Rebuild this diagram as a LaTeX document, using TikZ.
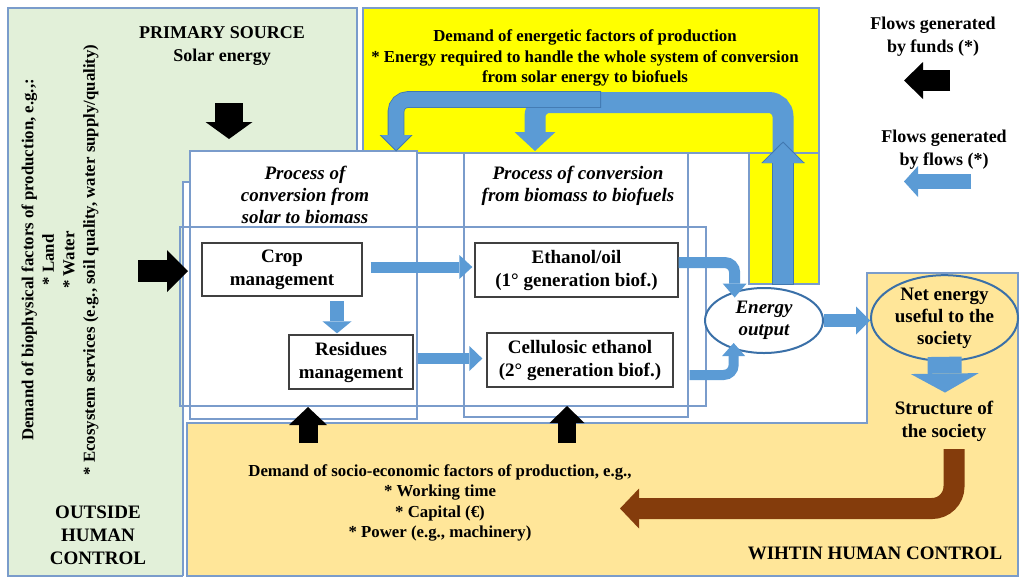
\documentclass[tikz,border=0pt]{standalone}
\usepackage{fontspec}
\setmainfont{Liberation Serif}
\usetikzlibrary{arrows.meta,calc,shapes.geometric}
\definecolor{gfill}{HTML}{E2F0D9}
\definecolor{bord}{HTML}{7A9CCB}
\definecolor{yel}{HTML}{FFFF00}
\definecolor{org}{HTML}{FFE699}
\definecolor{barr}{HTML}{5B9BD5}
\definecolor{barrd}{HTML}{4178B0}
\definecolor{ellb}{HTML}{3A70A8}
\definecolor{brn}{HTML}{843C0C}
\definecolor{boxb}{HTML}{404040}
\begin{document}
\begin{tikzpicture}[x=1pt,y=-1pt,
  lbl/.style={inner sep=0pt, align=center, font=\bfseries\fontsize{19}{23}\selectfont},
  lblit/.style={inner sep=0pt, align=center, font=\bfseries\itshape\fontsize{19}{22}\selectfont},
  lblsm/.style={inner sep=0pt, align=center, font=\bfseries\fontsize{16.8}{20.5}\selectfont},
  lbllg/.style={inner sep=0pt, align=center, font=\bfseries\fontsize{18}{23}\selectfont},
  tbox/.style={draw=boxb, line width=1.3pt, fill=white, inner sep=0pt, align=center, font=\bfseries\fontsize{19}{23}\selectfont},
  region/.style={draw=bord, line width=1.1pt},
  ellbox/.style={ellipse, draw=ellb, line width=2pt, inner sep=0pt, align=center},
  flowarrow/.style n args={3}{draw=barr, line width=#1, -{Triangle[width=#2, length=#3, line width=0pt]}},
  flowedge/.style n args={3}{draw=barrd, line width=#1, -{Triangle[width=#2, length=#3, line width=0pt]}},
  fundarrow/.style n args={3}{draw=black, line width=#1, -{Triangle[width=#2, length=#3, line width=0pt]}},
  backarrow/.style n args={3}{draw=brn, line width=#1, -{Triangle[width=#2, length=#3, line width=0pt]}}
]
\useasboundingbox (0,0) rectangle (1024,584);

% ---- regions ----
\filldraw[region, fill=gfill] (8,8) rectangle (357,576);
\fill[white] (183,182) rectangle (867,577);
\filldraw[region, fill=yel] (363,8) rectangle (819,153);
\filldraw[region, fill=yel] (749,153) rectangle (819,284);
\filldraw[region, fill=org] (187,576) -- (187,423) -- (867,423) -- (867,273) -- (1018,273) -- (1018,576) -- cycle;
\draw[region] (190,182) -- (183,182) -- (183,576);
\filldraw[region, fill=white] (190,151) rectangle (417,419);
\filldraw[region, fill=white] (464,153) rectangle (688,417);
\draw[region] (180,227) rectangle (706,406);

% ---- texts ----
\node[lbllg] (prim) at (222,46) {PRIMARY SOURCE\\Solar energy};
\node[lblsm, rotate=90] (bio) at (60,260) {Demand of biophysical factors of production, e.g.,:\\* Land\\* Water\\* Ecosystem services (e.g., soil quality, water supply/quality)};
\node[lbl] (outside) at (98,535) {OUTSIDE\\HUMAN\\CONTROL};
\node[lblsm] (yeltxt) at (585,58) {Demand of energetic factors of production\\* Energy required to handle the whole system of conversion\\from solar energy to biofuels};
\node[lbllg] (leg1) at (933,37) {Flows generated\\by funds (*)};
\node[lbllg] (leg2) at (944,150) {Flows generated\\by flows (*)};
\node[lblit] (pA) at (305,195) {Process of\\conversion from\\solar to biomass};
\node[lblit] (pD) at (578,186) {Process of conversion\\from biomass to biofuels};
\node[lblsm] (socio) at (440,503) {Demand of socio-economic factors of production, e.g.,\\* Working time\\* Capital (€)\\* Power (e.g., machinery)};
\node[lbl] (within) at (875,553) {WIHTIN HUMAN CONTROL};
\node[lbl] (struct) at (944,421) {Structure of\\the society};

% ---- boxes ----
\node[tbox, minimum width=160pt, minimum height=53pt] (crop) at (282,269.5) {Crop\\management};
\node[tbox, minimum width=124pt, minimum height=54pt] (res) at (351,362) {Residues\\management};
\node[tbox, minimum width=203pt, minimum height=54pt] (eth) at (576.5,270) {Ethanol/oil\\(1° generation biof.)};
\node[tbox, minimum width=186pt, minimum height=54pt] (cell) at (580,360) {Cellulosic ethanol\\(2° generation biof.)};
\node[ellbox, fill=white, minimum width=118pt, minimum height=65pt, font=\bfseries\itshape\fontsize{19}{22}\selectfont] (eo) at (764,320.5) {Energy\\output};
\node[ellbox, fill=org, minimum width=147pt, minimum height=80pt, font=\bfseries\fontsize{19}{22}\selectfont] (net) at (944.5,318) {Net energy\\useful to the\\society};

% ---- coordinates for free ends ----
\coordinate (solS) at (229,103);  \coordinate (solE) at (229,139);
\coordinate (bioS) at (138,271);  \coordinate (bioE) at (188,271);
\coordinate (up1S) at (308,443);  \coordinate (up1E) at (308,407);
\coordinate (up2S) at (567,443);  \coordinate (up2E) at (567,406);
\coordinate (lg1S) at (950,80.5); \coordinate (lg1E) at (904,80.5);
\coordinate (lg2S) at (971,181.5);\coordinate (lg2E) at (904,181.5);
\coordinate (enS) at (783,284);   \coordinate (enE) at (783,143);
\coordinate (enSo) at (783,285);  \coordinate (enEo) at (783,141.5);
\coordinate (bigS) at (783,168);  \coordinate (bigT) at (783,102.5);
\coordinate (bigL) at (535,102.5);\coordinate (bigE) at (535,151);
\coordinate (lftS) at (600,99.5); \coordinate (lftL) at (396,99.5);
\coordinate (lftE) at (396,150);
\coordinate (lftSo) at (601,99.5);\coordinate (lftEo) at (396,151.5);
\coordinate (brS) at (954,449);   \coordinate (brE) at (620,508.5);

% ---- funds (black) arrows ----
\draw[fundarrow={28pt}{47pt}{17pt}] (solS) -- (solE);
\draw[fundarrow={22pt}{42pt}{21pt}] (bioS) -- (bioE);
\draw[fundarrow={19pt}{38pt}{18pt}] (up1S) -- (up1E);
\draw[fundarrow={18pt}{35pt}{17pt}] (up2S) -- (up2E);
\draw[fundarrow={21pt}{37pt}{19pt}] (lg1S) -- (lg1E);

% ---- flows (blue) arrows ----
\draw[flowarrow={15pt}{31pt}{14pt}] (lg2S) -- (lg2E);
\draw[flowarrow={11pt}{24pt}{13pt}] ($(crop.east)+(8,-2.5)$) -- ($(crop.east -| eth.west)+(-2,-2.5)$);
\draw[flowarrow={14pt}{29pt}{12pt}] ($(res.north)+(-14,-33)$) -- ($(res.north)+(-14,-1)$);
\draw[flowarrow={11pt}{25pt}{13pt}] ($(res.east)+(4,-3.5)$) -- ($(res.east -| cell.west)+(-4,-3.5)$);
\draw[flowarrow={11pt}{24pt}{14pt}, rounded corners=10pt] ($(eth.east)+(0,-7.5)$) -- ++(56,0) -- ++(0,35);
\draw[flowarrow={10pt}{23pt}{13pt}, rounded corners=10pt] ($(cell.east)+(16,15)$) -- ++(44,0) -- ++(0,-32);
\draw[flowarrow={13pt}{28pt}{14pt}] (eo.east) -- (eo.east -| net.west);
\draw[flowarrow={34pt}{68pt}{19pt}] ($(net.south)+(0,-5)$) -- ($(struct.north)+(1,-8)$);
\draw[flowarrow={21pt}{41pt}{19pt}, rounded corners=14pt] (bigS) -- (bigT) -- (bigL) -- (bigE);
\draw[flowedge={16.6pt}{33pt}{16.5pt}, rounded corners=12pt] (lftSo) -- (lftL) -- (lftEo);
\draw[flowarrow={15pt}{30pt}{15pt}, rounded corners=12pt] (lftS) -- (lftL) -- (lftE);
\draw[flowedge={21.6pt}{43.5pt}{21.5pt}] (enSo) -- (enEo);
\draw[flowarrow={20pt}{41pt}{20pt}] (enS) -- (enE);

% ---- feedback (brown) arrow ----
\draw[backarrow={21pt}{40pt}{19pt}, rounded corners=22pt] (brS) |- (brE);
\end{tikzpicture}
\end{document}
